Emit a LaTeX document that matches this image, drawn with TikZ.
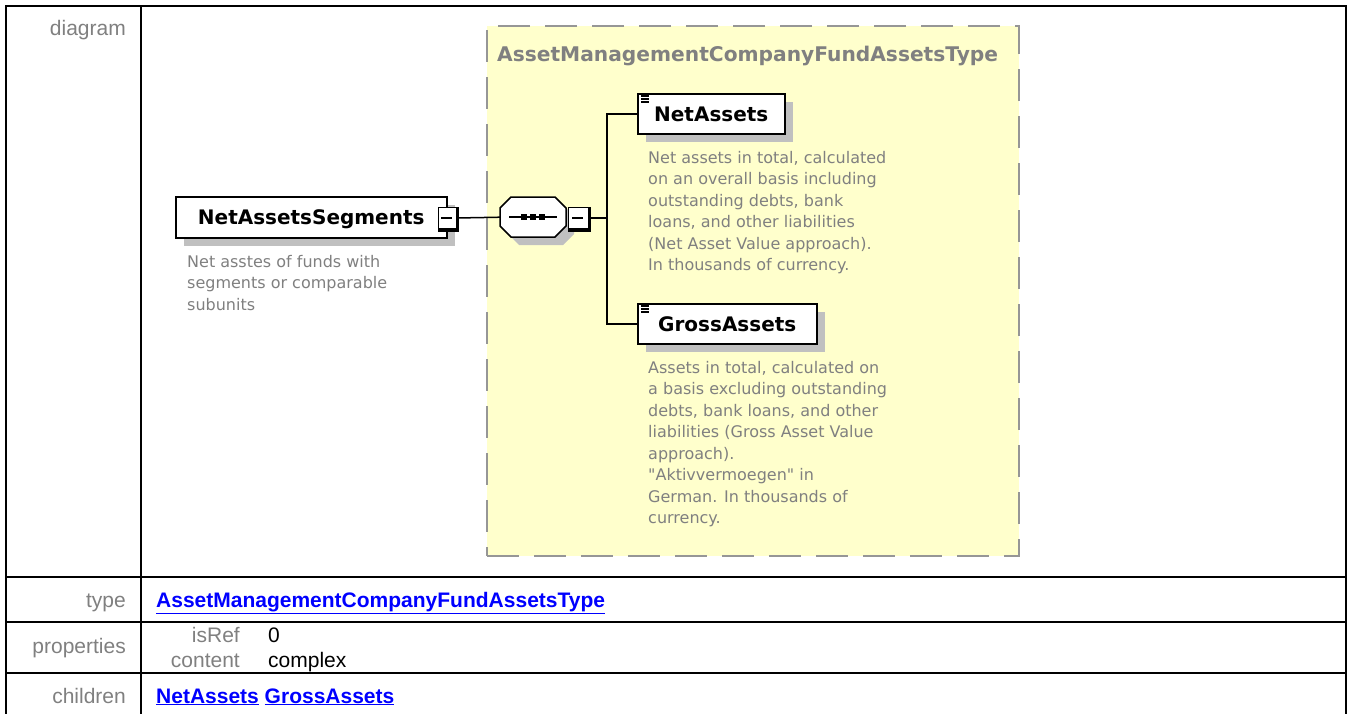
\documentclass[tikz,border=0pt]{standalone}
\usepackage{fontspec}
\setmainfont{Liberation Sans}
\newfontfamily\dv{DejaVu Sans}
\usetikzlibrary{shadows}
\definecolor{ylw}{RGB}{255,255,204}
\definecolor{dashgray}{RGB}{150,150,150}
\definecolor{shgray}{RGB}{192,192,192}
\definecolor{dgray}{RGB}{128,128,128}
\definecolor{lnk}{RGB}{0,0,255}
\begin{document}
\begin{tikzpicture}[x=1pt,y=-1pt,
 tbl/.style={line width=2.2pt},
 lbl/.style={anchor=base east, inner sep=0, font=\fontsize{21}{24}\selectfont, text=dgray},
 val/.style={anchor=base west, inner sep=0, font=\fontsize{21}{24}\selectfont},
 lnkstyle/.style={anchor=base west, inner sep=0, font=\bfseries\fontsize{21}{24}\selectfont, text=lnk},
 elem/.style={draw, line width=1.5pt, fill=white, anchor=north west, inner sep=0,
   font=\dv\bfseries\fontsize{20}{24}\selectfont, text height=14.6pt, text depth=0pt,
   drop shadow={shadow xshift=8pt, shadow yshift=-8pt, fill=shgray, opacity=1}},
 desc/.style={anchor=north west, inner sep=0, align=left, font=\dv\fontsize{16}{21.5}\selectfont, text=dgray},
 btn/.style={draw, line width=1pt, fill=white, minimum width=18pt, minimum height=21pt, inner sep=0},
 conn/.style={line width=1.5pt},
]
\useasboundingbox (0,0) rectangle (1348,713);
\clip (0,0) rectangle (1348,713);
\fill[white] (0,0) rectangle (1348,713);

% ---- table frame ----
\draw[tbl] (6,720) -- (6,6) -- (1346,6) -- (1346,720);
\draw[tbl] (141,6) -- (141,720);
\draw[tbl] (6,577) -- (1346,577);
\draw[tbl] (6,622) -- (1346,622);
\draw[tbl] (6,673) -- (1346,673);

% ---- row labels ----
\node[lbl] (ldiag) at (126,35) {diagram};
\node[lbl] (ltype) at (126,607) {type};
\node[lbl] (lprop) at (126,653) {properties};
\node[lbl] (lchild) at (126,703) {children};

\node[lnkstyle] (vtype) at (156,607) {\underline{AssetManagementCompanyFundAssetsType}};
\node[lbl] (lisref) at (240,642) {isRef};
\node[lbl] (lcont) at (240,667) {content};
\node[val] (visref) at (268,642) {0};
\node[val] (vcont) at (268,667) {complex};
\node[lnkstyle] (vchild) at (156,703) {\underline{NetAssets} \underline{GrossAssets}};

% ---- complex type box ----
\node[draw=dashgray, fill=ylw, line width=2pt, dash pattern=on 32pt off 15pt,
      anchor=north west, minimum width=532pt, minimum height=530pt, inner sep=0] (ctype) at (486,25) {};
\node[anchor=base west, inner sep=0, text=dgray, font=\dv\bfseries\fontsize{20.2}{24}\selectfont] (ctitle) at (497,61) {AssetManagementCompanyFundAssetsType};

% ---- root element ----
\node[elem, minimum width=271pt, minimum height=41pt] (nas) at (175,196) {NetAssetsSegments};
\node[desc] (nasdesc) at (187,255) {Net asstes of funds with\\segments or comparable\\subunits};
\node[btn] (nasx) at (447,218) {};
\draw[line width=3pt] ([xshift=1pt]nasx.north east) -- ([xshift=1pt,yshift=-1pt]nasx.south east) -- ([yshift=-1pt]nasx.south west);
\draw[line width=1.3pt] (nasx.center) ++(-6,0) -- ++(11,0);

% ---- sequence compositor ----
\node[minimum width=66pt, minimum height=40pt, inner sep=0, anchor=north west] (seq) at (500,197) {};
\fill[shgray, shift={(seq.north west)}] (19,8) -- (63,8) -- (74,19) -- (74,37) -- (63,48) -- (19,48) -- (8,37) -- (8,19) -- cycle;
\draw[line width=1.5pt, fill=white, shift={(seq.north west)}] (11,0) -- (55,0) -- (66,11) -- (66,29) -- (55,40) -- (11,40) -- (0,29) -- (0,11) -- cycle;
\draw[line width=1.6pt] ([xshift=-24pt]seq.center) -- ([xshift=24pt]seq.center);
\foreach \dx in {-9,0,9}
  \fill[shift={(seq.center)}] (\dx-3,-3) rectangle (\dx+3,3);
\node[btn, minimum width=20pt] (seqx) at (578,218) {};
\draw[line width=3pt] ([xshift=1pt]seqx.north east) -- ([xshift=1pt,yshift=-1pt]seqx.south east) -- ([yshift=-1pt]seqx.south west);
\draw[line width=1.3pt] (seqx.center) ++(-6,0) -- ++(11,0);

% ---- child elements ----
\node[elem, minimum width=147pt, minimum height=40pt] (na) at (637,93) {NetAssets};
\node[elem, minimum width=179pt, minimum height=40pt] (ga) at (637,303) {GrossAssets};
\foreach \n in {na,ga}{
  \foreach \dy in {3,6,9}
    \draw[line width=1.1pt, shift={(\n.north west)}] (4,\dy) -- (12,\dy);
}
\node[desc] (nadesc) at (648,151) {Net assets in total, calculated\\on an overall basis including\\outstanding debts, bank\\loans, and other liabilities\\(Net Asset Value approach).\\In thousands of currency.};
\node[desc] (gadesc) at (648,361) {Assets in total, calculated on\\a basis excluding outstanding\\debts, bank loans, and other\\liabilities (Gross Asset Value\\approach).\\"Aktivvermoegen" in\\German. In thousands of\\currency.};

% ---- connectors ----
\coordinate (fork) at (607,218);
\draw[conn] (nasx.east) -- (seq.west);
\draw[conn] (seqx.east) -- (fork);
\draw[conn] (fork) |- (na.west);
\draw[conn] (fork) |- (ga.west);
\end{tikzpicture}
\end{document}
